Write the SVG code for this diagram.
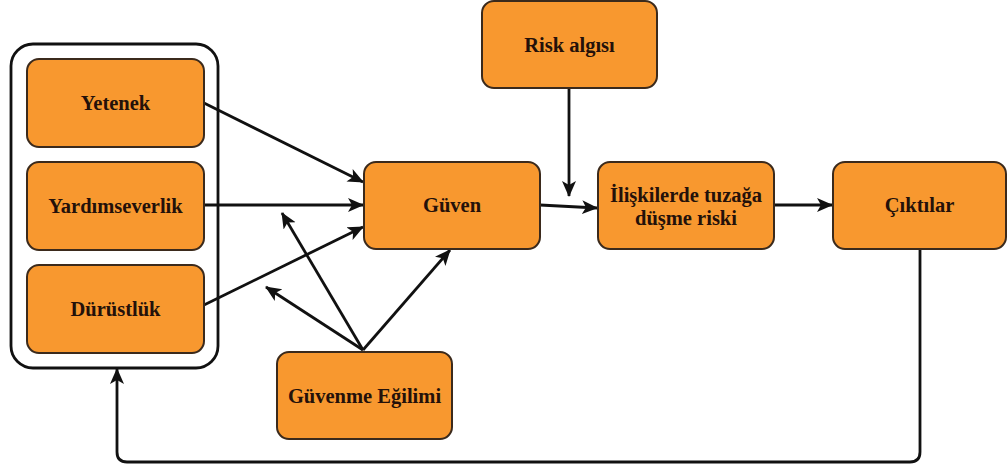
<svg xmlns="http://www.w3.org/2000/svg" width="1008" height="467" viewBox="0 0 1008 467">
  <style>
    .node rect { fill: #F8982F; stroke: #3b2a1c; stroke-width: 2; }
    .node text { font-family: "Liberation Serif", "Times New Roman", serif; font-weight: bold; font-size: 20.5px; fill: #24110a; text-anchor: middle; dominant-baseline: central; }
    .edge { fill: none; stroke: #111; stroke-width: 2.8; marker-end: url(#arrow); }
    .frame { fill: #fff; stroke: #111; stroke-width: 2.8; }
  </style>
  <defs>
    <marker id="arrow" markerUnits="userSpaceOnUse" markerWidth="18" markerHeight="16" refX="15" refY="7" orient="auto">
      <path d="M0,0 L16,7 L0,14 L4,7 Z" fill="#111"/>
    </marker>
  </defs>
  <rect width="1008" height="467" fill="#fff"/>

  <!-- container holding the three trust antecedents -->
  <rect id="antecedents" class="frame" x="11" y="44" width="207" height="324" rx="22"/>

  <g id="connectors">
    <path class="edge" d="M204,103 L363,182"/>
    <path class="edge" d="M204,205 L363,205"/>
    <path class="edge" d="M204,305 L363,227"/>
    <path class="edge" d="M363,350 L282,213"/>
    <path class="edge" d="M363,350 L266,287"/>
    <path class="edge" d="M363,350 L450,250"/>
    <path class="edge" d="M540,205 L597,208"/>
    <path class="edge" d="M569,88 L569,196"/>
    <path class="edge" d="M774,205 L832,205"/>
    <path class="edge" d="M920,249 V452 Q920,462 910,462 H127 Q117,462 117,452 V369"/>
  </g>

  <g id="yetenek" class="node">
    <rect x="27" y="59" width="177" height="88" rx="12"/>
    <text x="115.5" y="103">Yetenek</text>
  </g>
  <g id="yardimseverlik" class="node">
    <rect x="27" y="162" width="177" height="88" rx="12"/>
    <text x="115.5" y="206">Yardımseverlik</text>
  </g>
  <g id="durustluk" class="node">
    <rect x="27" y="265" width="177" height="88" rx="12"/>
    <text x="115.5" y="309">Dürüstlük</text>
  </g>
  <g id="guven" class="node">
    <rect x="364" y="162" width="176" height="87" rx="12"/>
    <text x="452" y="205">Güven</text>
  </g>
  <g id="guvenme-egilimi" class="node">
    <rect x="277" y="352" width="175" height="87" rx="12"/>
    <text x="364.5" y="396">Güvenme Eğilimi</text>
  </g>
  <g id="risk-algisi" class="node">
    <rect x="482" y="1" width="175" height="87" rx="12"/>
    <text x="569.5" y="45">Risk algısı</text>
  </g>
  <g id="tuzaga-dusme" class="node">
    <rect x="598" y="162" width="176" height="87" rx="12"/>
    <text x="686" y="195">İlişkilerde tuzağa</text>
    <text x="686" y="218">düşme riski</text>
  </g>
  <g id="ciktilar" class="node">
    <rect x="833" y="162" width="173" height="87" rx="12"/>
    <text x="919.5" y="205">Çıktılar</text>
  </g>
</svg>
